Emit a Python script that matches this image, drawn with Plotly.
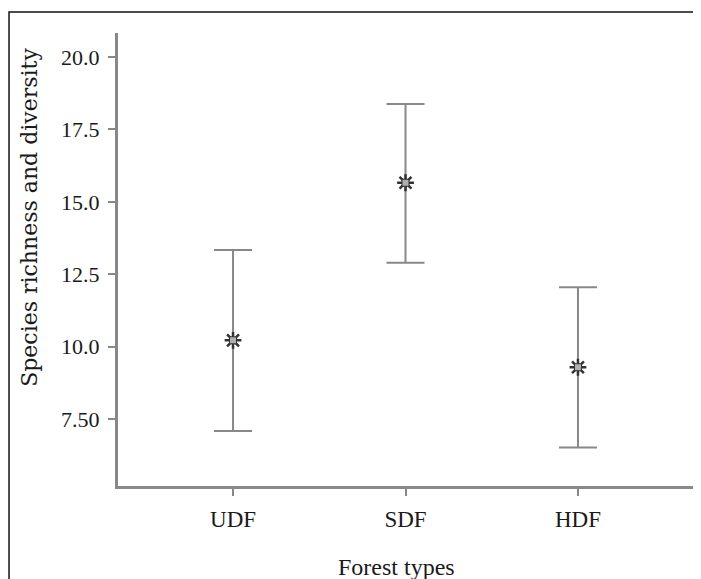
import plotly.graph_objects as go

categories = ["UDF", "SDF", "HDF"]
means = [10.22, 15.66, 9.29]
upper = [13.34, 18.38, 12.05]
lower = [7.09, 12.90, 6.52]
ytick_vals = [7.5, 10.0, 12.5, 15.0, 17.5, 20.0]
ytick_text = ["7.50", "10.0", "12.5", "15.0", "17.5", "20.0"]

err_plus = [u - m for u, m in zip(upper, means)]
err_minus = [m - l for m, l in zip(means, lower)]

FONT = "Liberation Serif"
TITLE_FONT = "DejaVu Serif"
GRAY = "#888888"
TXT = "#1a1a1a"

fig = go.Figure()
fig.add_trace(go.Scatter(
    x=categories, y=means, mode="markers",
    marker=dict(symbol="asterisk-open", size=14, color="#333333",
                line=dict(color="#333333", width=2.5)),
    error_y=dict(type="data", array=err_plus, arrayminus=err_minus,
                 color=GRAY, thickness=2, width=19),
    showlegend=False, hoverinfo="skip",
))
fig.add_trace(go.Scatter(
    x=categories, y=means, mode="markers",
    marker=dict(symbol="square", size=7, color="#b0b0b0",
                line=dict(color="#333333", width=1)),
    showlegend=False, hoverinfo="skip",
))

fig.update_layout(
    width=701, height=579,
    margin=dict(l=110, r=16, t=25, b=101),
    paper_bgcolor="white", plot_bgcolor="white",
    font=dict(family=FONT, size=22, color=TXT),
    xaxis=dict(
        type="category", range=[-0.667, 2.667],
        showline=True, linecolor=GRAY, linewidth=3,
        ticks="outside", ticklen=7, tickwidth=2, tickcolor=GRAY,
        showgrid=False, zeroline=False, ticklabelstandoff=3,
        tickfont=dict(family=FONT, size=23, color=TXT),
    ),
    yaxis=dict(
        range=[5.19, 20.83],
        tickvals=ytick_vals, ticktext=ytick_text,
        showline=True, linecolor=GRAY, linewidth=3,
        ticks="outside", ticklen=7, tickwidth=2, tickcolor=GRAY,
        showgrid=False, zeroline=False, ticklabelstandoff=4,
        tickfont=dict(family=FONT, size=22, color=TXT),
    ),
    shapes=[dict(type="rect", xref="paper", yref="paper",
                 x0=-0.1895, x1=1.05, y0=-0.25, y1=1.0464,
                 line=dict(color="#111111", width=1.5), layer="below")],
    annotations=[
        dict(text="Species richness and diversity", textangle=-90,
             xref="paper", yref="paper", x=-0.153, y=0.592,
             showarrow=False, font=dict(family=TITLE_FONT, size=22, color=TXT),
             xanchor="center", yanchor="middle"),
        dict(text="Forest types",
             xref="paper", yref="paper", x=0.4835, y=-0.179,
             showarrow=False, font=dict(family=FONT, size=24, color=TXT),
             xanchor="center", yanchor="middle"),
    ],
)

fig.write_html("out.html")
